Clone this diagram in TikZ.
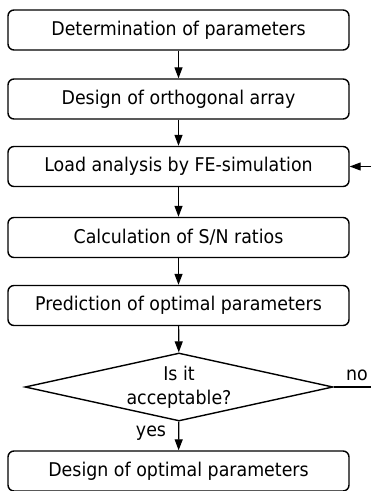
\documentclass[tikz,border=0pt]{standalone}
\usepackage{fontspec}
\setmainfont{DejaVu Sans}[FakeStretch=0.92]
\usetikzlibrary{shapes.geometric,arrows.meta}
\begin{document}
\begin{tikzpicture}[x=1bp,y=-1bp,
  font=\fontsize{19}{24}\selectfont,
  box/.style={draw,line width=1.4bp,rounded corners=6bp,minimum width=341bp,minimum height=40bp,inner sep=0pt},
  dec/.style={draw,line width=1.4bp,shape=diamond,aspect=4.5,minimum width=308bp,minimum height=68bp,inner sep=0pt,align=center},
  arr/.style={line width=1.2bp,-{Triangle[length=11bp,width=8bp]}},
  lbl/.style={inner sep=0pt}]
\useasboundingbox (0,0) rectangle (371,491);
\node[box] (b1) at (178.5,30) {Determination of parameters};
\node[box] (b2) at (178.5,99) {Design of orthogonal array};
\node[box] (b3) at (178.5,166.5) {Load analysis by FE-simulation};
\node[box] (b4) at (178.5,237.5) {Calculation of S/N ratios};
\node[box] (b5) at (178.5,305.5) {Prediction of optimal parameters};
\node[dec] (d) at (179,387) {Is it\\acceptable?};
\node[box] (b6) at (178.5,471) {Design of optimal parameters};
\coordinate (nr) at (371,387);
\coordinate (fr) at (371,166.5);
\draw[arr] (b1) -- (b2);
\draw[arr] (b2) -- (b3);
\draw[arr] (b3) -- (b4);
\draw[arr] (b4) -- (b5);
\draw[arr] (b5) -- (d);
\draw[arr] (d) -- (b6);
\draw[line width=1.2bp] (d.east) -- (nr);
\draw[arr] (fr) -- (b3.east);
\node[lbl] (no) at (357,375) {no};
\node[lbl] (yes) at (151,433) {yes};
\end{tikzpicture}
\end{document}
